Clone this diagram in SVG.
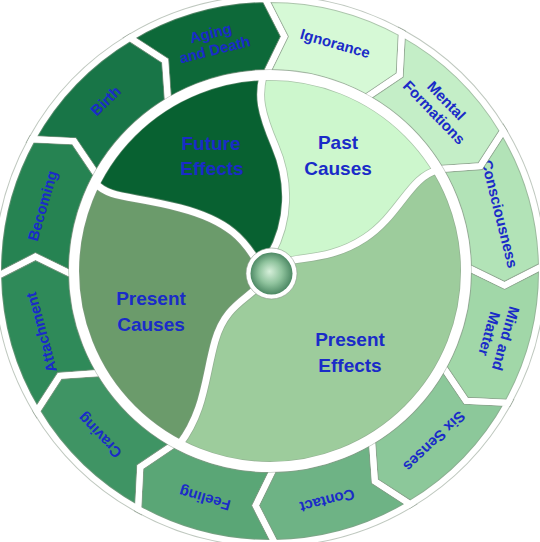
<svg xmlns="http://www.w3.org/2000/svg" xmlns:xlink="http://www.w3.org/1999/xlink" width="540" height="542" viewBox="0 0 540 542">
<style>
.lbl{font-family:"Liberation Sans","DejaVu Sans",sans-serif;font-size:15px;font-weight:bold;fill:#1a2bc8;text-anchor:middle}
.big{font-family:"Liberation Sans","DejaVu Sans",sans-serif;font-size:19px;font-weight:bold;fill:#1a2bc8;text-anchor:middle}
.gg{fill:none;stroke:#8a9a8a;stroke-opacity:0.55;stroke-width:8;stroke-linejoin:miter}
.gw{fill:none;stroke:#ffffff;stroke-width:6;stroke-linejoin:miter}
.cg{fill:none;stroke:#8a9a8a;stroke-opacity:0.55;stroke-width:8.6;stroke-linecap:round}
.cw{fill:none;stroke:#ffffff;stroke-width:7;stroke-linecap:round}
</style>
<defs>
<path id="seg" d="M -4.75 -271.96 A 272 272 0 0 1 131.87 -237.90 L 129.71 -195.96 L 95.99 -173.17 A 198 198 0 0 0 -3.46 -197.97 L 14.35 -234.56 Z"/>
<radialGradient id="ball" cx="50%" cy="50%" r="55%" fx="45%" fy="45%">
<stop offset="0" stop-color="#d6efda"/>
<stop offset="0.5" stop-color="#8fc39d"/>
<stop offset="1" stop-color="#3f7c58"/>
</radialGradient>
</defs>
<rect width="540" height="542" fill="#ffffff"/>
<g transform="translate(270,271)">
<g id="ignorance"><use xlink:href="#seg" fill="#d6f9d6"/><text class="lbl" transform="rotate(16)" y="-231.5">Ignorance</text></g>
<g id="mental-formations"><use xlink:href="#seg" transform="rotate(30)" fill="#c4eec7"/><text class="lbl" transform="rotate(46)"><tspan x="0" y="-240">Mental</tspan><tspan x="0" y="-223">Formations</tspan></text></g>
<g id="consciousness"><use xlink:href="#seg" transform="rotate(60)" fill="#b2e3b7"/><text class="lbl" transform="rotate(76)" y="-231.5">Consciousness</text></g>
<g id="mind-and-matter"><use xlink:href="#seg" transform="rotate(90)" fill="#a1d7a8"/><text class="lbl" transform="rotate(106)"><tspan x="0" y="-240">Mind and</tspan><tspan x="0" y="-223">Matter</tspan></text></g>
<g id="six-senses"><use xlink:href="#seg" transform="rotate(120)" fill="#8cc89a"/><text class="lbl" transform="rotate(136)" y="-231.5">Six Senses</text></g>
<g id="contact"><use xlink:href="#seg" transform="rotate(150)" fill="#6eb385"/><text class="lbl" transform="rotate(166)" y="-231.5">Contact</text></g>
<g id="feeling"><use xlink:href="#seg" transform="rotate(180)" fill="#5aa676"/><text class="lbl" transform="rotate(196)" y="-231.5">Feeling</text></g>
<g id="craving"><use xlink:href="#seg" transform="rotate(210)" fill="#3f9464"/><text class="lbl" transform="rotate(226)" y="-231.5">Craving</text></g>
<g id="attachment"><use xlink:href="#seg" transform="rotate(240)" fill="#2f8a59"/><text class="lbl" transform="rotate(255)" y="-231.5">Attachment</text></g>
<g id="becoming"><use xlink:href="#seg" transform="rotate(270)" fill="#268352"/><text class="lbl" transform="rotate(286)" y="-231.5">Becoming</text></g>
<g id="birth"><use xlink:href="#seg" transform="rotate(300)" fill="#187547"/><text class="lbl" transform="rotate(316)" y="-231.5">Birth</text></g>
<g id="aging-and-death"><use xlink:href="#seg" transform="rotate(330)" fill="#0d6939"/><text class="lbl" transform="rotate(346)"><tspan x="0" y="-240">Aging</tspan><tspan x="0" y="-223">and Death</tspan></text></g>

<g id="future-effects"><path fill="#086131" d="M 0 0 L -12 -8 C -25 -30 -40 -50 -90 -63 C -140 -76 -160 -72 -175.1 -88.07 A 196 196 0 0 1 -6.84 -195.88 C -12 -175 -10 -160 5 -125 C 20 -90 20 -50 0 -15 Z"/></g>
<g id="past-causes"><path fill="#cdf7cd" d="M 0 0 L 0 -15 C 20 -50 20 -90 5 -125 C -10 -160 -12 -175 -6.84 -195.88 A 196 196 0 0 1 168 -100.9 C 140 -95 130 -56 95 -33 C 60 -10 30 -15 12 -8 Z"/></g>
<g id="present-effects"><path fill="#9dcc9c" d="M 0 0 L 12 -8 C 30 -15 60 -10 95 -33 C 130 -56 140 -95 168 -100.9 A 196 196 0 0 1 -90.8 173.7 C -65 140 -65 105 -55 70 C -45 35 -25 30 -8 12 Z"/></g>
<g id="present-causes"><path fill="#6b9b6b" d="M 0 0 L -8 12 C -25 30 -45 35 -55 70 C -65 105 -65 140 -90.8 173.7 A 196 196 0 0 1 -175.1 -88.07 C -160 -72 -140 -76 -90 -63 C -40 -50 -25 -30 -12 -8 Z"/></g>

<g id="separators">
<use xlink:href="#seg" class="gg"/><use xlink:href="#seg" class="gg" transform="rotate(30)"/><use xlink:href="#seg" class="gg" transform="rotate(60)"/><use xlink:href="#seg" class="gg" transform="rotate(90)"/><use xlink:href="#seg" class="gg" transform="rotate(120)"/><use xlink:href="#seg" class="gg" transform="rotate(150)"/><use xlink:href="#seg" class="gg" transform="rotate(180)"/><use xlink:href="#seg" class="gg" transform="rotate(210)"/><use xlink:href="#seg" class="gg" transform="rotate(240)"/><use xlink:href="#seg" class="gg" transform="rotate(270)"/><use xlink:href="#seg" class="gg" transform="rotate(300)"/><use xlink:href="#seg" class="gg" transform="rotate(330)"/>
<use xlink:href="#seg" class="gw"/><use xlink:href="#seg" class="gw" transform="rotate(30)"/><use xlink:href="#seg" class="gw" transform="rotate(60)"/><use xlink:href="#seg" class="gw" transform="rotate(90)"/><use xlink:href="#seg" class="gw" transform="rotate(120)"/><use xlink:href="#seg" class="gw" transform="rotate(150)"/><use xlink:href="#seg" class="gw" transform="rotate(180)"/><use xlink:href="#seg" class="gw" transform="rotate(210)"/><use xlink:href="#seg" class="gw" transform="rotate(240)"/><use xlink:href="#seg" class="gw" transform="rotate(270)"/><use xlink:href="#seg" class="gw" transform="rotate(300)"/><use xlink:href="#seg" class="gw" transform="rotate(330)"/>
<circle r="196" fill="none" stroke="#8a9a8a" stroke-opacity="0.55" stroke-width="11.5"/>
<path class="cg" d="M 0 -15 C 20 -50 20 -90 5 -125 C -10 -160 -12 -175 -6.84 -195.88"/>
<path class="cg" d="M -12 -8 C -25 -30 -40 -50 -90 -63 C -140 -76 -160 -72 -175.1 -88.07"/>
<path class="cg" d="M -8 12 C -25 30 -45 35 -55 70 C -65 105 -65 140 -90.8 173.7"/>
<path class="cg" d="M 12 -8 C 30 -15 60 -10 95 -33 C 130 -56 140 -95 168 -100.9"/>
<circle r="196" fill="none" stroke="#ffffff" stroke-width="10"/>
<path class="cw" d="M 0 -15 C 20 -50 20 -90 5 -125 C -10 -160 -12 -175 -6.84 -195.88"/>
<path class="cw" d="M -12 -8 C -25 -30 -40 -50 -90 -63 C -140 -76 -160 -72 -175.1 -88.07"/>
<path class="cw" d="M -8 12 C -25 30 -45 35 -55 70 C -65 105 -65 140 -90.8 173.7"/>
<path class="cw" d="M 12 -8 C 30 -15 60 -10 95 -33 C 130 -56 140 -95 168 -100.9"/>
</g>

<g id="hub">
<circle cx="1.5" cy="2.5" r="25.5" fill="#ffffff" stroke="#8a9a8a" stroke-opacity="0.6" stroke-width="1"/>
<circle cx="1.5" cy="2.5" r="21" fill="url(#ball)"/>
</g>
</g>
<g id="center-labels">
<text class="big" x="211" y="150">Future</text><text class="big" x="212" y="175">Effects</text>
<text class="big" x="338" y="149">Past</text><text class="big" x="338" y="175">Causes</text>
<text class="big" x="151" y="305">Present</text><text class="big" x="151" y="331">Causes</text>
<text class="big" x="350" y="346">Present</text><text class="big" x="350" y="372">Effects</text>
</g>
</svg>
